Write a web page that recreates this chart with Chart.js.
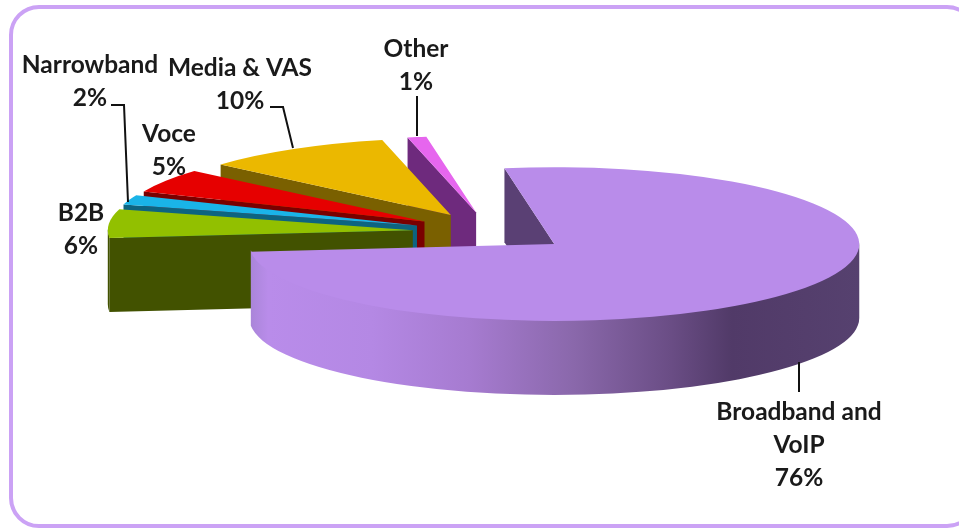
<!DOCTYPE html>
<html>
<head>
<meta charset="utf-8">
<title>Revenue split</title>
<script src="https://cdn.jsdelivr.net/npm/chart.js@4"></script>
<style>
    html, body { margin: 0; padding: 0; background: #fff; }
    #wrap { position: relative; width: 959px; height: 528px; overflow: hidden; }
    #frame { position: absolute; left: 9px; top: 5px; width: 968px; height: 523px; box-sizing: border-box;
             border: 4px solid #cba2f5; border-radius: 30px; }
    #pie { position: absolute; left: 0; top: 0; }
</style>
</head>
<body>
<div id="wrap">
    <div id="frame"></div>
    <canvas id="pie" width="959" height="528"></canvas>
</div>
<script>
// slices run clockwise, starting at the big one
const categories = ["Broadband and VoIP", "B2B", "Narrowband", "Voce", "Media & VAS", "Other"];
const shares = [76, 6, 2, 5, 10, 1];
const topColors = ["#b98cea", "#92c000", "#1ab4e8", "#e60000", "#ebb800", "#e666ee"];
const wallColors = ["#5a4074", "#425200", "#0d6480", "#7a0000", "#7a6000", "#6e2a7d"];

// label blocks: text lines, centre x, first baseline, and the leader line
const labelLines = [["Broadband and", "VoIP", "76%"], ["B2B", "6%"], ["Narrowband", "2%"], ["Voce", "5%"], ["Media & VAS", "10%"], ["Other", "1%"]];
const labelX = [799, 81, 90, 169, 240, 416];
const labelY = [420, 221, 73, 142, 76, 57];
const leaders = [
    [[799, 362], [799, 392]],
    null,
    [[111, 105], [124, 105], [128, 202]],
    null,
    [[270, 107], [283, 107], [293, 148]],
    [[417, 96], [417, 136]]
];

const TILT = 0.252;   // vertical squash of the pie disc
const DEPTH = 74;     // height of the extruded wall
const EXPLODE = 79;   // how far each slice is pulled out of the centre
const FONT = 'bold 24.5px Lato, "Open Sans", sans-serif';

// the built-in offset option also grows the radius, so slices are moved here instead
const drawArc = Chart.ArcElement.prototype.draw;
Chart.ArcElement.prototype.draw = function (ctx, area) {
    const mid = (this.startAngle + this.endAngle) / 2;
    ctx.save();
    ctx.translate(Math.cos(mid) * EXPLODE, Math.sin(mid) * EXPLODE);
    drawArc.call(this, ctx, area);
    ctx.restore();
};

function sliceApex(arc) {
    const mid = (arc.startAngle + arc.endAngle) / 2;
    return {
        x: arc.x + Math.cos(mid) * EXPLODE,
        y: arc.y + Math.sin(mid) * EXPLODE * TILT
    };
}

function rimFill(ctx, index) {
    if (index !== 0) return wallColors[index];
    const g = ctx.createLinearGradient(250, 0, 860, 0);
    g.addColorStop(0, "#a985d8");
    g.addColorStop(0.03, "#b98cea");
    g.addColorStop(0.2, "#b488e4");
    g.addColorStop(0.36, "#a67bd0");
    g.addColorStop(0.53, "#8a68ab");
    g.addColorStop(0.69, "#6a4d85");
    g.addColorStop(0.79, "#513a68");
    g.addColorStop(1, "#56416f");
    return g;
}

// cut face and curved rim of one slice, painted under the chart's own arcs
function drawWalls(ctx, arc, index) {
    const apex = sliceApex(arc);
    const r = arc.outerRadius;
    const rY = r * TILT;

    // only the clockwise-leading cut face is ever turned towards the viewer
    const ex = apex.x + Math.cos(arc.startAngle) * r;
    const ey = apex.y + Math.sin(arc.startAngle) * rY;
    ctx.beginPath();
    ctx.moveTo(apex.x, apex.y);
    ctx.lineTo(ex, ey);
    ctx.lineTo(ex, ey + DEPTH);
    ctx.lineTo(apex.x, apex.y + DEPTH);
    ctx.closePath();
    ctx.fillStyle = wallColors[index];
    ctx.fill();

    // rim: the part of the arc on the near half of the disc,
    // started a little high so no seam shows under the top surface
    const twoPi = Math.PI * 2;
    for (let k = -1; k <= 1; k++) {
        const a0 = Math.max(arc.startAngle, twoPi * k);
        const a1 = Math.min(arc.endAngle, twoPi * k + Math.PI);
        if (a1 <= a0) continue;
        ctx.beginPath();
        ctx.ellipse(apex.x, apex.y - 1.5, r, rY, 0, a0, a1);
        ctx.ellipse(apex.x, apex.y + DEPTH, r, rY, 0, a1, a0, true);
        ctx.closePath();
        ctx.fillStyle = rimFill(ctx, index);
        ctx.fill();
    }
}

const pie3d = {
    id: "pie3d",
    beforeDatasetsDraw(chart) {
        const ctx = chart.ctx;
        const arcs = chart.getDatasetMeta(0).data;
        // far slices first, the big one last
        for (let i = arcs.length - 1; i >= 1; i--) drawWalls(ctx, arcs[i], i);
        drawWalls(ctx, arcs[0], 0);

        const cy = arcs[0].y;
        ctx.save();
        ctx.translate(0, cy);
        ctx.scale(1, TILT);
        ctx.translate(0, -cy);
    },
    afterDatasetsDraw(chart) {
        const ctx = chart.ctx;
        ctx.restore();

        ctx.save();
        ctx.strokeStyle = "#111";
        ctx.lineWidth = 2;
        leaders.forEach((pts) => {
            if (!pts) return;
            ctx.beginPath();
            pts.forEach((p, i) => i ? ctx.lineTo(p[0], p[1]) : ctx.moveTo(p[0], p[1]));
            ctx.stroke();
        });
        ctx.font = FONT;
        ctx.fillStyle = "#1a1a1a";
        ctx.textAlign = "center";
        ctx.textBaseline = "alphabetic";
        labelLines.forEach((lines, i) => {
            lines.forEach((line, j) => ctx.fillText(line, labelX[i], labelY[i] + j * 33));
        });
        ctx.restore();
    }
};

new Chart(document.getElementById("pie"), {
    type: "pie",
    data: {
        labels: categories,
        datasets: [{
            data: shares,
            backgroundColor: topColors,
            borderWidth: 0,
            radius: 305,
            clip: 4000
        }]
    },
    options: {
        responsive: false,
        animation: false,
        rotation: -9.4,
        layout: { padding: { left: 24, bottom: 64 } },
        plugins: { legend: { display: false }, tooltip: { enabled: false } }
    },
    plugins: [pie3d]
});
</script>
</body>
</html>
